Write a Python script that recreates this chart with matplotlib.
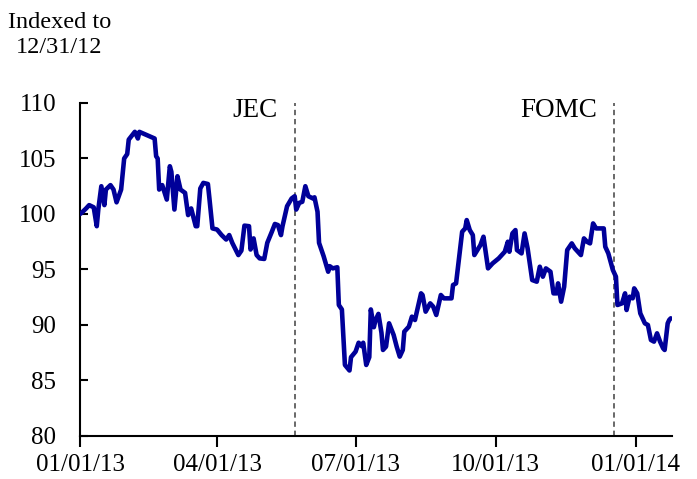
import pandas as pd
import matplotlib
matplotlib.use("Agg")
import matplotlib.pyplot as plt
import matplotlib.dates as mdates

plt.rcParams["font.family"] = ["Liberation Serif", "DejaVu Serif"]

# days since 01/01/13 and index level (12/31/12 = 100)
days = [
    0, 1, 4, 6, 9, 11, 12, 14, 16, 17, 20, 22, 24, 27, 29, 31, 32, 36, 38, 39,
    49, 50, 51, 52, 54, 57, 59, 60, 62, 64, 66, 69, 71, 73, 76, 77, 79, 81, 84, 85,
    87, 90, 93, 96, 98, 100, 104, 106, 108, 111, 112, 114, 116, 118, 121, 123, 126, 128, 130, 132,
    133, 136, 139, 141, 142, 144, 146, 148, 150, 153, 154, 156, 157, 160, 163, 164, 166, 169, 170, 172,
    174, 177, 178, 181, 183, 185, 186, 188, 190, 191, 193, 194, 196, 198, 199, 201, 203, 206, 208, 210,
    212, 213, 216, 218, 220, 222, 224, 225, 227, 230, 232, 234, 237, 239, 244, 245, 247, 251, 253, 254,
    256, 258, 259, 263, 265, 268, 271, 275, 279, 281, 282, 284, 286, 287, 290, 292, 294, 297, 300, 302,
    304, 306, 309, 311, 313, 314, 316, 318, 320, 323, 325, 329, 331, 333, 335, 337, 339, 344, 345, 347,
    350, 352, 353, 356, 358, 359, 361, 363, 364, 366, 368, 371, 373, 375, 377, 379, 381, 383, 384, 386,
    387, 388,
]
index_vals = [
    100.0, 100.1, 100.5, 100.8, 100.6, 98.9, 100.4, 102.5, 100.8, 102.2, 102.6, 102.2, 101.05, 102.2, 105.0, 105.4, 106.7, 107.4, 106.8, 107.4,
    106.8, 105.2, 105.0, 102.2, 102.6, 101.3, 104.3, 103.8, 100.4, 103.4, 102.2, 101.9, 99.9, 100.5, 98.9, 98.9, 102.3, 102.8, 102.7, 101.4,
    98.7, 98.6, 98.1, 97.7, 98.1, 97.4, 96.3, 96.7, 98.95, 98.9, 96.8, 97.8, 96.3, 96.0, 95.95, 97.4, 98.4, 99.1, 99.0, 98.1,
    98.9, 100.7, 101.4, 101.6, 100.4, 101.0, 101.1, 102.5, 101.6, 101.4, 101.5, 100.2, 97.4, 96.2, 94.8, 95.3, 95.1, 95.2, 91.8, 91.4,
    86.4, 85.9, 87.1, 87.6, 88.4, 88.1, 88.4, 86.4, 87.1, 91.4, 89.8, 90.4, 91.0, 89.3, 87.75, 88.05, 90.15, 89.1, 88.05, 87.15,
    87.75, 89.4, 89.85, 90.75, 90.45, 91.65, 92.85, 92.7, 91.2, 91.95, 91.65, 90.9, 92.7, 92.4, 92.4, 93.6, 93.75, 98.4, 98.7, 99.45,
    98.55, 98.1, 96.3, 97.2, 97.95, 95.1, 95.55, 96.0, 96.6, 97.5, 96.6, 98.25, 98.55, 96.75, 96.45, 98.25, 96.9, 94.05, 93.9, 95.25,
    94.35, 95.1, 94.8, 92.85, 92.85, 93.75, 92.1, 93.45, 96.75, 97.35, 96.9, 96.3, 97.8, 97.5, 97.35, 99.15, 98.7, 98.7, 97.05, 96.45,
    94.95, 94.35, 91.8, 91.95, 92.85, 91.35, 92.55, 92.4, 93.3, 92.85, 91.05, 90.15, 90.0, 88.65, 88.5, 89.25, 88.5, 87.9, 87.75, 90.15,
    90.45, 90.6,
]

events = ["JEC", "FOMC"]
event_dates = ["2013-05-22", "2013-12-18"]
tick_dates = ["2013-01-01", "2013-04-01", "2013-07-01", "2013-10-01", "2014-01-01"]

dates = pd.Timestamp("2013-01-01") + pd.to_timedelta(days, unit="D")

fig = plt.figure(figsize=(6.97, 4.79), dpi=100)
ax = fig.add_axes([0.1148, 0.0898, 0.8497, 0.6952])

ax.plot(dates, index_vals, color="#000099", lw=3.3, solid_joinstyle="round",
        solid_capstyle="round", zorder=3)

for name, d in zip(events, event_dates):
    d = pd.Timestamp(d)
    ax.axvline(d, color="#404040", lw=1.1, ls=(0, (3.5, 2.5)), zorder=2)
    ax.text(d - pd.Timedelta(days=11), 109.3, name, ha="right", va="center", fontsize=19.5)

ax.set_ylim(80, 110)
ax.set_yticks(range(80, 111, 5))
ax.set_xlim(pd.Timestamp("2013-01-01"), pd.Timestamp("2014-01-25"))
ax.set_xticks(pd.to_datetime(tick_dates))
ax.xaxis.set_major_formatter(mdates.DateFormatter("%m/%d/%y"))

for s in ["top", "right"]:
    ax.spines[s].set_visible(False)
for s in ["left", "bottom"]:
    ax.spines[s].set_linewidth(1.5)
ax.tick_params(axis="y", direction="in", length=6, width=1.5, pad=17, labelsize=18)
ax.tick_params(axis="x", direction="out", length=8, width=1.5, pad=5, labelsize=18)

fig.text(0.085, 0.927, "Indexed to\n12/31/12", ha="center", va="center",
         fontsize=17.5, linespacing=1.25)

fig.savefig("out.png", dpi=100)
